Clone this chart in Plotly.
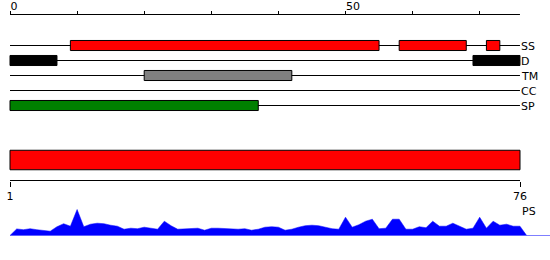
import plotly.graph_objects as go

# ---------------- data ----------------
LENGTH = 76
TRACKS = ["SS", "D", "TM", "CC", "SP"]
TRACK_COLORS = {"SS": "#ff0000", "D": "#000000", "TM": "#808080", "CC": "#000000", "SP": "#008000"}
SS_STARTS = [9, 58, 71]
SS_ENDS = [55, 68, 73]
D_STARTS = [0, 69]
D_ENDS = [7, 76]
TM_STARTS = [20]
TM_ENDS = [42]
CC_STARTS = []
CC_ENDS = []
SP_STARTS = [0]
SP_ENDS = [37]
SEGMENTS = {
    "SS": (SS_STARTS, SS_ENDS),
    "D": (D_STARTS, D_ENDS),
    "TM": (TM_STARTS, TM_ENDS),
    "CC": (CC_STARTS, CC_ENDS),
    "SP": (SP_STARTS, SP_ENDS),
}
TOP_TICK_VALS = [0, 10, 20, 30, 40, 50, 60, 70]
TOP_TICK_TEXT = ["0", "", "", "", "", "50", "", ""]
DOMAIN_START = 1
DOMAIN_END = 76
BOTTOM_TICK_VALS = [1, 76]
BOTTOM_TICK_TEXT = ["1", "76"]
PS_LABEL = "PS"
PS_VALUES = [6.6, 5.8, 6.8, 5.8, 5.3, 4.3, 8.8, 11.8, 9.3, 26,
             8.8, 11.3, 12.3, 11.8, 10.3, 9.3, 6.3, 7.3, 6.8, 8.3,
             7.3, 6.3, 14.3, 9.8, 6.3, 6.8, 7.3, 7.3, 5.3, 7.3,
             7.3, 6.8, 6.3, 6.3, 6.8, 5.3, 6.3, 8.3, 8.8, 8.3,
             5.3, 6.3, 8.3, 9.8, 10.3, 9.8, 8.3, 6.8, 6.3, 18.3,
             8.3, 10.8, 14.3, 16.3, 6.8, 7.3, 16.3, 16.3, 6.3, 6.3,
             8.8, 7.8, 14.3, 9.3, 9.3, 12.3, 9.3, 6.3, 7.3, 18.3,
             7.3, 14.3, 10.3, 11.3, 9.3, 9.3]

# ---------------- layout helpers ----------------
W, H = 550, 260
def fy(px):
    return 1 - px / H

PX_PER_UNIT = 6.71
X0 = 10
xrange_top = [-X0 / PX_PER_UNIT, (W - X0) / PX_PER_UNIT]
PX2 = 510 / (DOMAIN_END - DOMAIN_START)
xrange_bot = [DOMAIN_START - X0 / PX2, DOMAIN_START + (W - X0) / PX2]

FONT = dict(family="DejaVu Sans", size=11, color="#000000")

fig = go.Figure()

# track bars
for name in TRACKS:
    starts, ends = SEGMENTS[name]
    if not starts:
        continue
    fig.add_trace(go.Bar(
        orientation="h",
        y=[name] * len(starts),
        base=starts,
        x=[e - s for s, e in zip(starts, ends)],
        width=0.67,
        marker=dict(color=TRACK_COLORS[name], line=dict(color="#000000", width=1)),
        xaxis="x", yaxis="y", hoverinfo="skip",
    ))

# domain bar
fig.add_trace(go.Bar(
    orientation="h", y=[0], base=[DOMAIN_START], x=[DOMAIN_END - DOMAIN_START],
    width=0.65, marker=dict(color="#ff0000", line=dict(color="#000000", width=1)),
    xaxis="x2", yaxis="y5", hoverinfo="skip",
))

# profile
px_ = [0] + list(range(1, len(PS_VALUES) + 1)) + [len(PS_VALUES) + 1]
py_ = [0] + PS_VALUES + [0]
fig.add_trace(go.Scatter(
    x=px_, y=py_, mode="lines", fill="tozeroy", fillcolor="#0000ff",
    line=dict(color="#0000ff", width=0.5), xaxis="x", yaxis="y4", hoverinfo="skip",
))

shapes = []
# track baselines
for i, name in enumerate(TRACKS):
    shapes.append(dict(type="line", xref="x", yref="y", x0=0, x1=LENGTH, y0=i, y1=i,
                       line=dict(color="#000000", width=1), layer="below"))
# top ruler line
shapes.append(dict(type="line", xref="x", yref="paper", x0=0, x1=LENGTH,
                   y0=fy(14.5), y1=fy(14.5), line=dict(color="#000000", width=1)))
# bottom ruler line
shapes.append(dict(type="line", xref="x2", yref="paper", x0=DOMAIN_START, x1=DOMAIN_END,
                   y0=fy(180.5), y1=fy(180.5), line=dict(color="#000000", width=1)))
# profile baseline
shapes.append(dict(type="line", xref="x", yref="y4", x0=0, x1=xrange_top[1], y0=0, y1=0,
                   line=dict(color="#0000ff", width=1)))

annotations = []
for i, name in enumerate(TRACKS):
    annotations.append(dict(x=LENGTH, y=i, xref="x", yref="y", text=name, showarrow=False,
                            xanchor="left", yanchor="middle", xshift=-1, yshift=-1, font=FONT))
annotations.append(dict(x=LENGTH, y=fy(211), xref="x", yref="paper", text=PS_LABEL,
                        showarrow=False, xanchor="left", yanchor="middle", xshift=0, font=FONT))

fig.update_layout(
    width=W, height=H, margin=dict(l=0, r=0, t=0, b=0),
    paper_bgcolor="white", plot_bgcolor="white", showlegend=False, barmode="overlay",
    shapes=shapes, annotations=annotations,
    xaxis=dict(domain=[0, 1], range=xrange_top, anchor="free", position=fy(14.5), side="top",
               showgrid=False, zeroline=False, showline=False, ticks="outside", ticklen=4,
               tickwidth=1, tickcolor="#000000", tickvals=TOP_TICK_VALS, ticktext=TOP_TICK_TEXT,
               ticklabelposition="outside right", tickfont=FONT, fixedrange=True),
    xaxis2=dict(domain=[0, 1], range=xrange_bot, anchor="free", position=fy(180.5), side="bottom",
                overlaying="x",
                showgrid=False, zeroline=False, showline=False, ticks="outside", ticklen=5,
                tickwidth=1, tickcolor="#000000", tickvals=BOTTOM_TICK_VALS,
                ticktext=BOTTOM_TICK_TEXT, tickfont=FONT, fixedrange=True),
    yaxis=dict(domain=[fy(113), fy(38)], type="category", categoryorder="array",
               categoryarray=TRACKS, range=[len(TRACKS) - 0.5, -0.5], visible=False,
               anchor="x", fixedrange=True),
    yaxis4=dict(domain=[fy(235.5), fy(205.5)], range=[0, 30], visible=False, anchor="x",
                fixedrange=True),
    yaxis5=dict(domain=[fy(175), fy(145)], range=[-0.5, 0.5], visible=False, anchor="x2",
                fixedrange=True),
)

fig.write_html("out.html", config={"displayModeBar": False})
